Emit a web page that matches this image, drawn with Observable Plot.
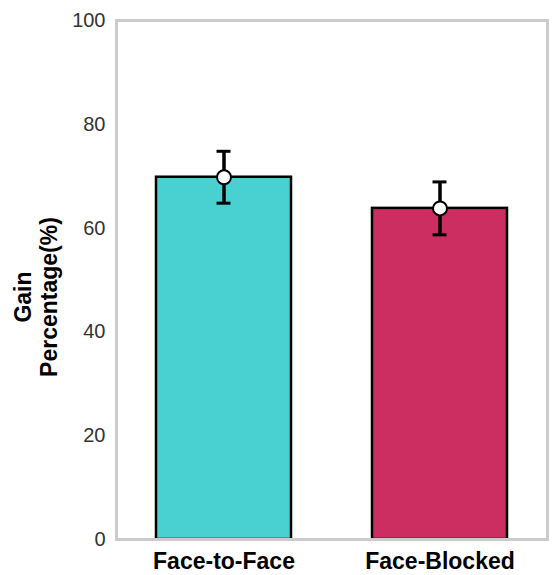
<!DOCTYPE html>
<html>
<head>
<meta charset="utf-8">
<script src="https://cdn.jsdelivr.net/npm/d3@7"></script>
<script src="https://cdn.jsdelivr.net/npm/@observablehq/plot@0.6"></script>
<style>
  html, body { margin: 0; padding: 0; background: #fff; }
  #chart svg { display: block; }
</style>
</head>
<body>
<div id="chart"></div>
<script>
// Mean gain per viewing condition, with symmetric error (±)
const conditions = ["Face-to-Face", "Face-Blocked"];
const gains = [69.8, 63.8];
const errors = [5.0, 5.1];
const barColors = ["#48D1D0", "#CC2E62"];
const yTicks = [0, 20, 40, 60, 80, 100];

const data = conditions.map((c, i) => ({
  condition: c,
  gain: gains[i],
  lo: gains[i] - errors[i],
  hi: gains[i] + errors[i],
  color: barColors[i]
}));

const chart = Plot.plot({
  width: 556,
  height: 575,
  marginLeft: 116,
  marginRight: 9,
  marginTop: 20,
  marginBottom: 36,
  style: { fontFamily: "'Liberation Sans', Arial, sans-serif", background: "#fff" },
  x: { domain: conditions, paddingInner: 0.375, paddingOuter: 0.185, label: null },
  y: { domain: [0, 100], label: null },
  marks: [
    Plot.barY(data, {
      x: "condition", y: "gain", fill: "color",
      stroke: "#000", strokeWidth: 2.5
    }),
    Plot.ruleX(data, { x: "condition", y1: "lo", y2: "hi", stroke: "#000", strokeWidth: 3.5 }),
    Plot.tickY(data, { x: "condition", y: "lo", stroke: "#000", strokeWidth: 3, insetLeft: 60.5, insetRight: 60.5 }),
    Plot.tickY(data, { x: "condition", y: "hi", stroke: "#000", strokeWidth: 3, insetLeft: 60.5, insetRight: 60.5 }),
    Plot.dot(data, { x: "condition", y: "gain", r: 7, fill: "#fff", stroke: "#000", strokeWidth: 2 }),
    Plot.axisY({
      ticks: yTicks, tickSize: 0, tickPadding: 11,
      fontSize: 20, fill: "#333", label: null
    }),
    Plot.axisX({
      tickSize: 0, tickPadding: 13,
      fontSize: 23, fontWeight: "bold", fill: "#000", label: null
    }),
    Plot.text(["Gain\nPercentage(%)"], {
      frameAnchor: "left", rotate: -90,
      dx: -81, dy: 17,
      fontSize: 23, fontWeight: "bold", fill: "#000",
      lineAnchor: "middle", textAnchor: "middle", lineHeight: 1.15
    }),
    Plot.frame({ stroke: "#cccccc", strokeWidth: 3 })
  ]
});

document.getElementById("chart").appendChild(chart);
</script>
</body>
</html>
